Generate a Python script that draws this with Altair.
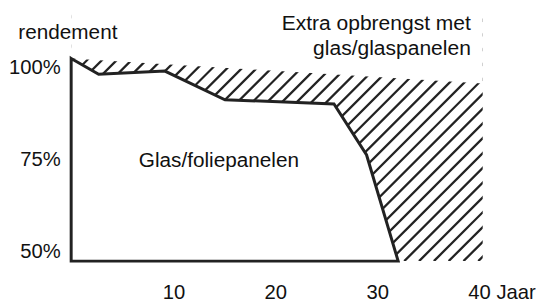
import altair as alt
import pandas as pd
import numpy as np

# ---- data ----
years_foil = [0, 2.7, 9.2, 15.1, 25.8, 29.0, 32.1]
yield_foil = [102.5, 98.2, 99.05, 91.25, 90.1, 76.2, 47.3]
years_glass = [0, 40.4]
yield_glass = [102.5, 95.7]
x_ticks = [10, 20, 30, 40]
y_ticks = [50, 75, 100]
label_left = "rendement"
label_top = ["Extra opbrengst met", "glas/glaspanelen"]
label_area = "Glas/foliepanelen"
x_unit = "Jaar"

FONT = "Liberation Sans"
INK = "#111111"
LINE = "#222222"
Y_MIN, Y_MAX = 47.3, 115.7
X_MAX = 40.4
W, H = 417, 254.5

foil = pd.DataFrame({"x": years_foil, "y": yield_foil, "base": Y_MIN})
glass = pd.DataFrame({"x": years_glass, "y": yield_glass, "top": Y_MAX})

# hatch pattern (decoration): 45 degree lines, 15 px apart horizontally
px_per_x = W / X_MAX
px_per_y = H / (Y_MAX - Y_MIN)
step = 15 / px_per_x
slope = px_per_x / px_per_y
rows = []
for i, x0 in enumerate(32.7 + step * np.arange(-40, 7)):
    rows.append({"id": i, "x": x0, "y": Y_MIN})
    rows.append({"id": i, "x": x0 + 30, "y": Y_MIN + 30 * slope})
hatch = pd.DataFrame(rows)

x_enc = alt.X(
    "x:Q",
    scale=alt.Scale(domain=[0, X_MAX], nice=False, zero=False),
    axis=alt.Axis(
        values=x_ticks, title=None, grid=False, domain=False, ticks=False,
        labelExpr=f"datum.value == {x_ticks[-1]} ? datum.label + ' {x_unit}' : datum.label",
        labelAlign="left", labelOffset=-11, labelPadding=22, labelBaseline="top",
        labelFlush=False, labelOverlap=False, labelBound=False,
        labelFontSize=20.5, labelFont=FONT, labelColor=INK,
    ),
)
y_enc = alt.Y(
    "y:Q",
    scale=alt.Scale(domain=[Y_MIN, Y_MAX], nice=False, zero=False),
    axis=alt.Axis(
        values=y_ticks, title=None, grid=False, domain=False, ticks=False,
        labelExpr="datum.value + '%'", labelPadding=11,
        labelFontSize=20.5, labelFont=FONT, labelColor=INK,
    ),
)

hatch_layer = alt.Chart(hatch).mark_line(clip=True, stroke=LINE, strokeWidth=2.3).encode(
    x=x_enc, y=y_enc, detail="id:N"
)
upper_mask = alt.Chart(glass).mark_area(fill="white", opacity=1, strokeWidth=0).encode(
    x=x_enc, y=y_enc, y2="top:Q"
)
lower_area = alt.Chart(foil).mark_area(
    fill="white", opacity=1, stroke=LINE, strokeWidth=3, strokeJoin="miter"
).encode(x=x_enc, y=y_enc, y2="base:Q")

one = pd.DataFrame({"k": [0]})
t_left = alt.Chart(one).mark_text(
    text=label_left, font=FONT, fontSize=21, color=INK, align="left", baseline="alphabetic"
).encode(x=alt.value(-53.5), y=alt.value(29.3))
t_top = alt.Chart(one).mark_text(
    text=label_top, font=FONT, fontSize=21.3, color=INK, align="right",
    baseline="alphabetic", lineHeight=25
).encode(x=alt.value(405), y=alt.value(20.3))
t_area = alt.Chart(one).mark_text(
    text=label_area, font=FONT, fontSize=21, color=INK, align="left", baseline="alphabetic"
).encode(x=alt.value(68.6), y=alt.value(158.7))

chart = alt.layer(hatch_layer, upper_mask, lower_area, t_left, t_top, t_area).properties(
    width=W, height=H, padding=0
).configure_view(stroke=None)

chart.save("out.html", embed_options={"renderer": "svg", "actions": False})
